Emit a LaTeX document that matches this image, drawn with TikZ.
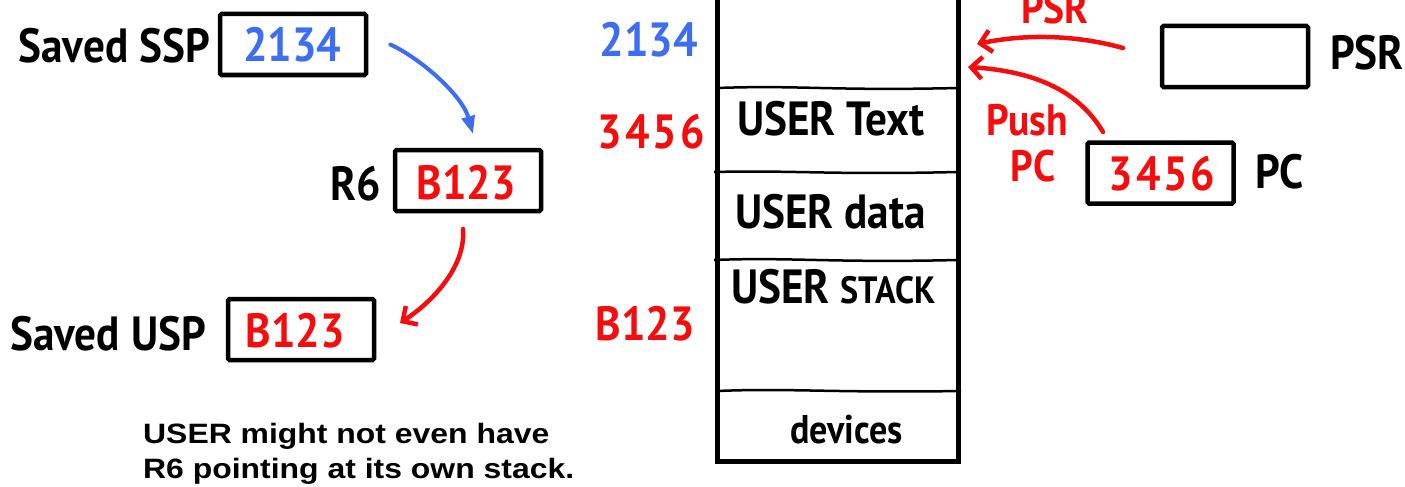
\documentclass[tikz,border=0pt]{standalone}
\usepackage{fontspec}
\setmainfont{PT Sans}
\newfontfamily\handfont[FakeStretch=0.9]{PT Sans}
\newfontfamily\notefont[FakeStretch=1.14]{Liberation Sans}
\usetikzlibrary{arrows.meta,calc}
\definecolor{penblue}{RGB}{61,110,242}
\definecolor{penred}{RGB}{245,12,12}
\newcommand{\spaced}[4]{#1\kern3pt#2\kern3pt#3\kern3pt#4}
\begin{document}
\begin{tikzpicture}[x=1pt,y=-1pt,
  reg/.style={draw, line width=4.5pt, rounded corners=1.5pt,
    minimum width=146pt, minimum height=61pt, inner sep=0pt},
  hand/.style={font=\handfont\bfseries\fontsize{48}{48}\selectfont, inner sep=0pt},
  small/.style={font=\handfont\bfseries\fontsize{44}{44}\selectfont, inner sep=0pt},
  note/.style={font=\notefont\bfseries\fontsize{28}{28}\selectfont, inner sep=0pt},
  divider/.style={line width=2.5pt},
  redpen/.style={penred, line width=4.5pt, line cap=round,
    -{Straight Barb[length=11pt,width=22pt,line width=4.5pt]}},
  bluepen/.style={penblue, line width=4pt, line cap=round,
    -{Triangle[length=18pt,width=13pt]}}
]
\useasboundingbox (0,0) rectangle (1405,487);

% ---------- registers on the left ----------
\node[reg] (ssp) at (293,44.5) {};
\node[hand, text=penblue, anchor=base] (sspval) at (292,62) {2134};
\node[hand, anchor=base east] (ssplbl) at (210,63) {Saved SSP};

\node[reg] (r6) at (468,180.5) {};
\node[hand, text=penred, anchor=base] (r6val) at (466,199) {B123};
\node[hand, anchor=base east] (r6lbl) at (381,200) {R6};

\node[reg] (usp) at (301,329.5) {};
\node[hand, text=penred, anchor=base] (uspval) at (295,347) {B123};
\node[hand, anchor=base east] (usplbl) at (206,350) {Saved USP};

\coordinate (bluestart) at ($(ssp.east)+(22,0)$);
\coordinate (blueend) at (473,134);
\draw[bluepen] (bluestart) .. controls (420,58) and (462,95) .. (blueend);

\coordinate (redstart) at (463,229);
\coordinate (redend) at (400,323);
\draw[redpen] (redstart) .. controls (466,265) and (435,300) .. (redend);

\node[note, anchor=base west] (note1) at (143,443) {USER might not even have};
\node[note, anchor=base west] (note2) at (143,478) {R6 pointing at its own stack.};

% ---------- memory column ----------
\draw[line width=5pt, line join=miter] (717,-6) -- (717,461) -- (958,461) -- (958,-6);
\draw[divider] (717,88) .. controls (800,85) and (830,91) .. (958,88);
\draw[divider] (714,172) .. controls (790,170) and (830,175) .. (958,172);
\draw[divider] (714,260) .. controls (790,257) and (830,263) .. (958,260);
\draw[divider] (717,391) .. controls (790,388) and (830,393) .. (961,391);

\node[hand, anchor=base west] (mtext) at (737,135) {USER Text};
\node[hand, anchor=base west] (mdata) at (735,228) {USER data};
\node[hand, anchor=base west] (mstack) at (731,303) {USER {\fontsize{38}{38}\selectfont STACK}};
\node[hand, anchor=base west, font=\handfont\bfseries\fontsize{40}{40}\selectfont] (mdev) at (790,443) {devices};

\node[hand, text=penblue, anchor=base east] (a2134) at (698,57) {2134};
\node[hand, text=penred, anchor=base east] (a3456) at (705,148) {\spaced3456};
\node[hand, text=penred, anchor=base east] (aB123) at (695,340) {B123};

% ---------- processor registers on the right ----------
\node[reg] (psr) at (1235,56.5) {};
\node[hand, anchor=base west] (psrlbl) at (1330,70) {PSR};

\node[reg] (pc) at (1160.5,173) {};
\node[hand, text=penred, anchor=base] (pcval) at (1162,190) {\spaced3456};
\node[hand, anchor=base west] (pclbl) at (1255,188) {PC};

\coordinate (psrstart) at (1123,48);
\coordinate (psrend) at (977,44);
\draw[redpen] (psrstart) .. controls (1080,36) and (1030,33) .. (psrend);
\node[small, text=penred, anchor=base] (psrpush) at (1055,24) {PSR};

\coordinate (pcstart) at (1103,132);
\coordinate (pcend) at (968,67);
\draw[redpen] (pcstart) .. controls (1082,97) and (1045,72) .. (pcend);
\node[small, text=penred, anchor=base] (pushlbl) at (1027,135) {Push};
\node[small, text=penred, anchor=base] (pushpc) at (1033,181) {PC};
\end{tikzpicture}
\end{document}
